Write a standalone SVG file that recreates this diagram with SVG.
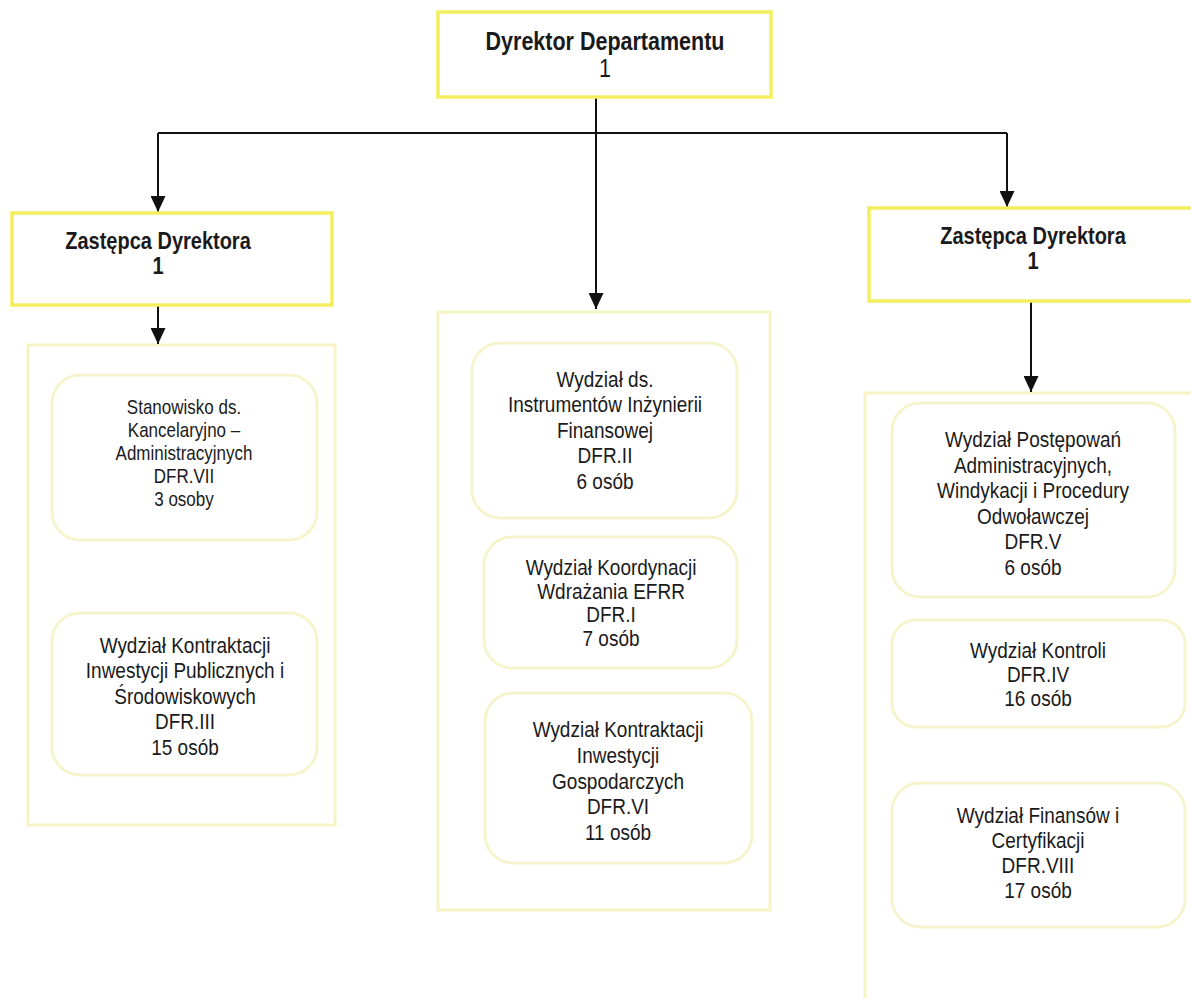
<svg xmlns="http://www.w3.org/2000/svg" width="1191" height="998" viewBox="0 0 1191 998">
<style>
.head{fill:#fff;stroke:#f3ef5c;stroke-width:3.5}
.cont{fill:#fff;stroke:#f6f4c6;stroke-width:3}
.unit{fill:#fff;stroke:#f6f4cc;stroke-width:3}
text{font-family:"Liberation Sans",Arial,sans-serif;fill:#1a1a1a;text-anchor:middle}
.b{font-weight:bold}
.t19{font-size:19px}
.t17{font-size:17px}
.conn{stroke:#111;stroke-width:2;fill:none}
</style>
<defs>
<marker id="arr" markerUnits="userSpaceOnUse" markerWidth="17" markerHeight="15" refX="16" refY="7.5" orient="auto" viewBox="0 0 17 15">
<path d="M0,0 L16,7.5 L0,15 Z" fill="#111"/>
</marker>
</defs>
<rect width="1191" height="998" fill="#fff"/>

<g id="containers">
<rect id="cont-left" class="cont" x="28" y="345" width="307" height="480"/>
<rect id="cont-center" class="cont" x="438" y="312" width="332" height="598"/>
<rect id="cont-right" class="cont" x="865" y="393" width="345" height="630"/>
</g>

<g id="connectors">
<path class="conn" d="M596,97 V133"/>
<path class="conn" d="M158,133 H1007"/>
<path class="conn" d="M158,133 V212" marker-end="url(#arr)"/>
<path class="conn" d="M596,133 V309" marker-end="url(#arr)"/>
<path class="conn" d="M1007,133 V207" marker-end="url(#arr)"/>
<path class="conn" d="M158,305 V344" marker-end="url(#arr)"/>
<path class="conn" d="M1031,301 V392" marker-end="url(#arr)"/>
</g>

<g id="dyrektor">
<rect class="head" x="438" y="12" width="333" height="85"/>
<text class="b" font-size="21.5" transform="translate(605,50) scale(1,1.2)">Dyrektor Departamentu</text>
<text font-size="21.5" transform="translate(605,77) scale(1,1.2)">1</text>
</g>

<g id="zastepca-left">
<rect class="head" x="12" y="213" width="320" height="92"/>
<text class="b" font-size="20" transform="translate(158,249) scale(1,1.2)"><tspan x="0" y="0">Zastępca Dyrektora</tspan><tspan x="0" dy="21">1</tspan></text>
</g>

<g id="zastepca-right">
<rect class="head" x="869" y="208" width="340" height="93"/>
<text class="b" font-size="20" transform="translate(1033,244) scale(1,1.2)"><tspan x="0" y="0">Zastępca Dyrektora</tspan><tspan x="0" dy="21">1</tspan></text>
</g>

<g id="dfr-vii">
<rect class="unit" x="52" y="375" width="265" height="165" rx="28"/>
<text class="t17" transform="translate(184,414) scale(1,1.2)"><tspan x="0" y="0">Stanowisko ds.</tspan><tspan x="0" dy="19.17">Kancelaryjno –</tspan><tspan x="0" dy="19.17">Administracyjnych</tspan><tspan x="0" dy="19.17">DFR.VII</tspan><tspan x="0" dy="19.17">3 osoby</tspan></text>
</g>

<g id="dfr-iii">
<rect class="unit" x="52" y="613" width="265" height="162" rx="28"/>
<text class="t19" transform="translate(185,653) scale(1,1.2)"><tspan x="0" y="0">Wydział Kontraktacji</tspan><tspan x="0" dy="21.25">Inwestycji Publicznych i</tspan><tspan x="0" dy="21.25">Środowiskowych</tspan><tspan x="0" dy="21.25">DFR.III</tspan><tspan x="0" dy="21.25">15 osób</tspan></text>
</g>

<g id="dfr-ii">
<rect class="unit" x="472" y="343" width="265" height="175" rx="28"/>
<text class="t19" transform="translate(605,387) scale(1,1.2)"><tspan x="0" y="0">Wydział ds.</tspan><tspan x="0" dy="21.25">Instrumentów Inżynierii</tspan><tspan x="0" dy="21.25">Finansowej</tspan><tspan x="0" dy="21.25">DFR.II</tspan><tspan x="0" dy="21.25">6 osób</tspan></text>
</g>

<g id="dfr-i">
<rect class="unit" x="484" y="537" width="253" height="131" rx="28"/>
<text class="t19" transform="translate(611,575) scale(1,1.2)"><tspan x="0" y="0">Wydział  Koordynacji</tspan><tspan x="0" dy="19.75">Wdrażania EFRR</tspan><tspan x="0" dy="19.75">DFR.I</tspan><tspan x="0" dy="19.75">7 osób</tspan></text>
</g>

<g id="dfr-vi">
<rect class="unit" x="485" y="693" width="267" height="170" rx="28"/>
<text class="t19" transform="translate(618,737) scale(1,1.2)"><tspan x="0" y="0">Wydział Kontraktacji</tspan><tspan x="0" dy="21.46">Inwestycji</tspan><tspan x="0" dy="21.46">Gospodarczych</tspan><tspan x="0" dy="21.46">DFR.VI</tspan><tspan x="0" dy="21.46">11 osób</tspan></text>
</g>

<g id="dfr-v">
<rect class="unit" x="892" y="403" width="283" height="194" rx="28"/>
<text class="t19" transform="translate(1033,447) scale(1,1.2)"><tspan x="0" y="0">Wydział Postępowań</tspan><tspan x="0" dy="21.33">Administracyjnych,</tspan><tspan x="0" dy="21.33">Windykacji i Procedury</tspan><tspan x="0" dy="21.33">Odwoławczej</tspan><tspan x="0" dy="21.33">DFR.V</tspan><tspan x="0" dy="21.33">6 osób</tspan></text>
</g>

<g id="dfr-iv">
<rect class="unit" x="892" y="620" width="293" height="107" rx="24"/>
<text class="t19" transform="translate(1038,658) scale(1,1.2)"><tspan x="0" y="0">Wydział Kontroli</tspan><tspan x="0" dy="20">DFR.IV</tspan><tspan x="0" dy="20">16 osób</tspan></text>
</g>

<g id="dfr-viii">
<rect class="unit" x="892" y="783" width="293" height="144" rx="28"/>
<text class="t19" transform="translate(1038,823) scale(1,1.2)"><tspan x="0" y="0">Wydział Finansów i</tspan><tspan x="0" dy="20.83">Certyfikacji</tspan><tspan x="0" dy="20.83">DFR.VIII</tspan><tspan x="0" dy="20.83">17 osób</tspan></text>
</g>
</svg>
